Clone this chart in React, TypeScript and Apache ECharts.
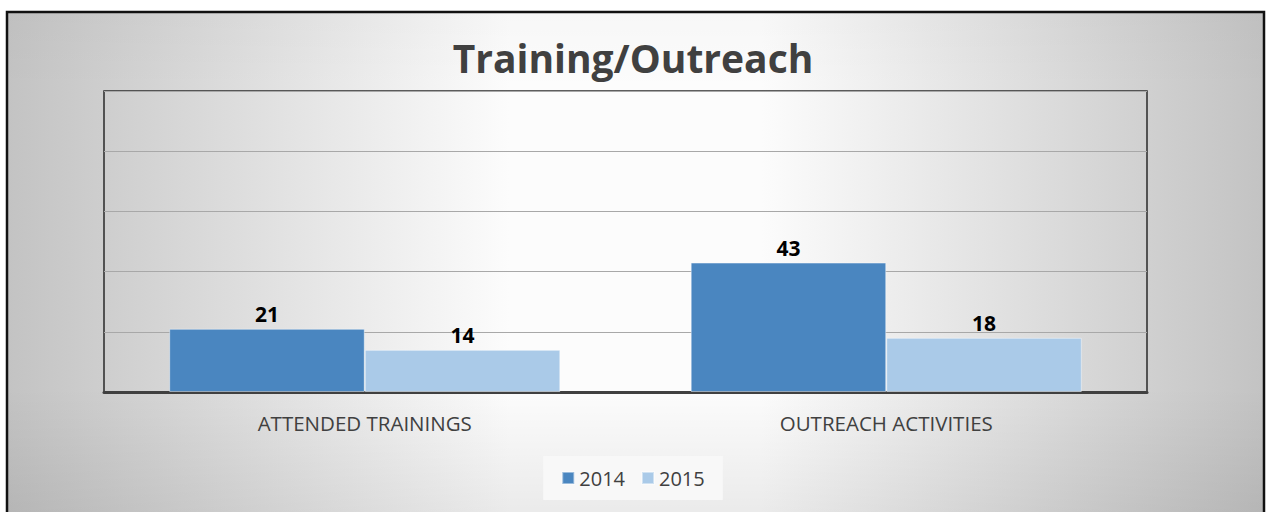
import React, { useEffect, useRef } from "react";
import * as echarts from "echarts";

const categories = ["ATTENDED TRAININGS", "OUTREACH ACTIVITIES"];
const seriesNames = ["2014", "2015"];
const values2014 = [21, 43];
const values2015 = [14, 18];
const seriesColors = ["#4A86C0", "#AACAE8"];

export default function App() {
  const ref = useRef<HTMLDivElement>(null);
  useEffect(() => {
    if (!ref.current) return;
    const chart = echarts.init(ref.current, undefined, { renderer: "svg" });
    const dataSets = [values2014, values2015];
    chart.setOption({
      animation: false,
      backgroundColor: "#ffffff",
      graphic: [
        {
          type: "rect",
          z: -10,
          silent: true,
          shape: { x: 7, y: 12, width: 1257, height: 510 },
          style: {
            fill: new echarts.graphic.LinearGradient(0, 0, 1, 0, [
              { offset: 0, color: "#c3c3c3" },
              { offset: 0.4, color: "#fcfcfc" },
              { offset: 0.6, color: "#fcfcfc" },
              { offset: 1, color: "#c3c3c3" },
            ]),
            stroke: "#111111",
            lineWidth: 2.5,
          },
        },
        {
          type: "rect",
          z: -9,
          silent: true,
          shape: { x: 8, y: 13, width: 1255, height: 500 },
          style: {
            fill: new echarts.graphic.LinearGradient(0, 0, 0, 1, [
              { offset: 0, color: "rgba(0,0,0,0.02)" },
              { offset: 0.15, color: "rgba(0,0,0,0)" },
              { offset: 0.75, color: "rgba(0,0,0,0)" },
              { offset: 1, color: "rgba(0,0,0,0.07)" },
            ]),
          },
        },
      ],
      title: {
        text: "Training/Outreach",
        left: "center",
        top: 33,
        textStyle: {
          fontFamily: "Open Sans",
          fontWeight: "bold",
          fontSize: 39,
          color: "#404040",
        },
      },
      legend: {
        data: seriesNames,
        bottom: 12,
        left: "center",
        itemWidth: 12,
        itemHeight: 12,
        itemGap: 16,
        padding: [12, 18],
        backgroundColor: "#f8f8f8",
        icon: "rect",
        textStyle: { fontFamily: "Open Sans", fontSize: 20, color: "#404040" },
      },
      grid: {
        left: 104,
        right: 119,
        top: 91,
        bottom: 120,
        show: true,
        borderColor: "#2a2a2a",
        borderWidth: 1.5,
        backgroundColor: "transparent",
      },
      xAxis: {
        type: "category",
        data: categories,
        axisTick: { show: false },
        axisLine: { show: true, lineStyle: { color: "#404040", width: 3 } },
        axisLabel: {
          fontFamily: "Open Sans",
          fontSize: 20.5,
          color: "#404040",
          margin: 20,
        },
      },
      yAxis: {
        type: "value",
        min: 0,
        max: 100,
        interval: 20,
        axisLabel: { show: false },
        axisLine: { show: false },
        axisTick: { show: false },
        splitLine: { lineStyle: { color: "#a8a8a8", width: 1 } },
      },
      series: seriesNames.map((name, i) => ({
        name,
        type: "bar",
        data: dataSets[i],
        barGap: "0%",
        barCategoryGap: "25%",
        itemStyle: {
          color: seriesColors[i],
          borderColor: "rgba(255,255,255,0.45)",
          borderWidth: 1,
        },
        label: {
          show: true,
          position: "top",
          distance: 4,
          fontFamily: "Open Sans",
          fontWeight: "bold",
          fontSize: 21,
          color: "#000000",
        },
      })),
    });
    return () => chart.dispose();
  }, []);
  return (
    <div
      ref={ref}
      style={{ position: "absolute", left: 0, top: 0, width: 1266, height: 512 }}
    />
  );
}
